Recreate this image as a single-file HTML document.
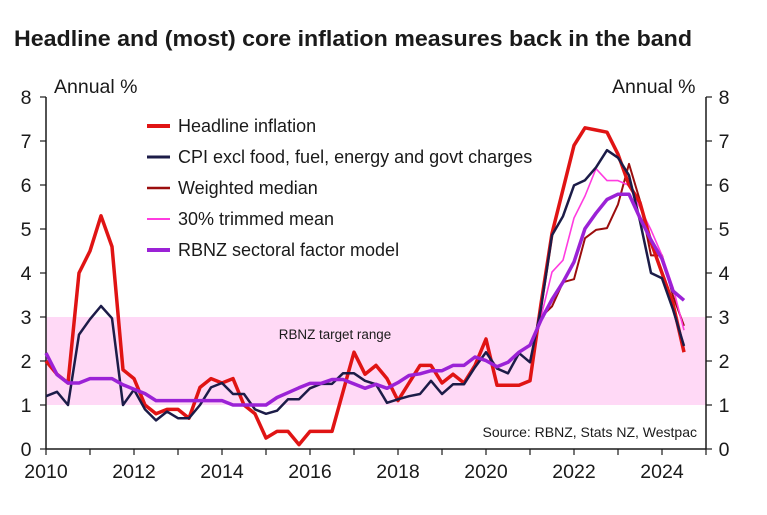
<!DOCTYPE html>
<html><head><meta charset="utf-8"><style>
body{margin:0;background:#fff;width:767px;height:510px;overflow:hidden;font-family:"Liberation Sans",Arial,sans-serif}
svg text{font-family:"Liberation Sans",Arial,sans-serif}
</style></head><body>
<svg id="c" width="767" height="510">
<text x="14" y="46" font-size="22" font-weight="bold" fill="#1a1a1a" textLength="678" lengthAdjust="spacingAndGlyphs">Headline and (most) core inflation measures back in the band</text>
<text x="54" y="93" font-size="19.5" fill="#1a1a1a">Annual %</text>
<text x="612" y="93" font-size="19.5" fill="#1a1a1a">Annual %</text>
<g id="band"></g><g id="axes"></g><g id="series"></g><g id="legend"></g>
<text x="335" y="339" font-size="13.4" text-anchor="middle" fill="#1a1a1a">RBNZ target range</text>
<text x="697" y="437" font-size="14" text-anchor="end" fill="#1a1a1a">Source: RBNZ, Stats NZ, Westpac</text>
</svg>
<script>
const xTicks=[2010,2012,2014,2016,2018,2020,2022,2024];
const yTicks=[0,1,2,3,4,5,6,7,8];
const startYear=2010;
const headline=[2.0,1.7,1.5,4.0,4.5,5.3,4.6,1.8,1.6,1.0,0.8,0.9,0.9,0.7,1.4,1.6,1.5,1.6,1.0,0.8,0.25,0.4,0.4,0.1,0.4,0.4,0.4,1.3,2.2,1.7,1.9,1.6,1.1,1.5,1.9,1.9,1.5,1.7,1.5,1.9,2.5,1.45,1.45,1.45,1.55,3.3,4.9,5.9,6.9,7.3,7.25,7.2,6.7,6.0,5.6,4.7,4.0,3.3,2.2];
const cpiExcl=[1.2,1.3,1.0,2.6,2.95,3.25,2.97,1.0,1.35,0.9,0.65,0.85,0.7,0.7,1.0,1.4,1.5,1.25,1.25,0.9,0.8,0.87,1.13,1.13,1.38,1.48,1.48,1.72,1.72,1.55,1.47,1.05,1.13,1.2,1.25,1.55,1.25,1.47,1.47,1.86,2.2,1.83,1.72,2.18,1.97,3.2,4.86,5.29,5.99,6.11,6.4,6.79,6.62,6.22,5.18,4.0,3.88,3.17,2.34];
const sectoral=[2.18,1.69,1.5,1.5,1.6,1.6,1.6,1.46,1.36,1.26,1.1,1.1,1.1,1.1,1.1,1.1,1.1,1.0,1.0,1.0,1.0,1.17,1.28,1.39,1.49,1.49,1.58,1.58,1.48,1.38,1.47,1.38,1.51,1.67,1.71,1.78,1.78,1.9,1.9,2.09,2.01,1.87,1.97,2.2,2.36,2.93,3.4,3.79,4.25,5.01,5.36,5.67,5.79,5.79,5.25,4.75,4.32,3.59,3.38];
const medianStart=44;
const weightedMedian=[2.0,3.0,3.24,3.79,3.86,4.79,4.98,5.02,5.56,6.48,5.64,4.4,4.4,3.48,2.8];
const trimmedStart=44;
const trimmedMean=[2.0,3.0,4.02,4.29,5.25,5.75,6.37,6.1,6.1,5.99,5.48,4.98,4.4,3.67,2.7];

const X=y=>46+(y-2010)*44, Y=v=>449-v*44;
const qx=i=>X(startYear+i*0.25);
const NS='http://www.w3.org/2000/svg';
function mk(tag,attrs,parent){const e=document.createElementNS(NS,tag);for(const k in attrs)e.setAttribute(k,attrs[k]);parent.appendChild(e);return e;}
const band=document.getElementById('band'),axes=document.getElementById('axes'),ser=document.getElementById('series'),leg=document.getElementById('legend');
const b=mk('rect',{x:X(2010),y:Y(3),width:X(2025)-X(2010),height:Y(1)-Y(3),fill:'#ffd9f6'},band);


mk('line',{x1:X(2010),y1:Y(0),x2:X(2010),y2:Y(8),stroke:'#1a1a1a','stroke-width':1.5},axes);
mk('line',{x1:X(2025),y1:Y(0),x2:X(2025),y2:Y(8),stroke:'#1a1a1a','stroke-width':1.5},axes);
mk('line',{x1:X(2010),y1:Y(0),x2:X(2025),y2:Y(0),stroke:'#1a1a1a','stroke-width':1.5},axes);
yTicks.forEach(v=>{
 mk('line',{x1:X(2010)-6,y1:Y(v),x2:X(2010),y2:Y(v),stroke:'#1a1a1a','stroke-width':1.2},axes);
 mk('line',{x1:X(2025),y1:Y(v),x2:X(2025)+6,y2:Y(v),stroke:'#1a1a1a','stroke-width':1.2},axes);
 const t1=mk('text',{x:26,y:Y(v)+7,'font-size':19.5,'text-anchor':'middle',fill:'#1a1a1a'},axes);t1.textContent=v;
 
 
 const t2=mk('text',{x:724,y:Y(v)+7,'font-size':19.5,'text-anchor':'middle',fill:'#1a1a1a'},axes);t2.textContent=v;
 
 
});
for(let yr=2010;yr<=2025;yr++)mk('line',{x1:X(yr),y1:Y(0),x2:X(yr),y2:Y(0)+6,stroke:'#1a1a1a','stroke-width':1.2},axes);
xTicks.forEach(yr=>{const t=mk('text',{x:X(yr),y:478,'font-size':19.5,'text-anchor':'middle',fill:'#1a1a1a'},axes);t.textContent=yr;
 
 });
function line(data,start,color,w,name){
 const pts=data.map((v,i)=>qx(start+i).toFixed(1)+','+Y(v).toFixed(1)).join(' ');
 const p=mk('polyline',{points:pts,fill:'none',stroke:color,'stroke-width':w,'stroke-linejoin':'round'},ser);
 
 
}
line(weightedMedian,medianStart,'#9b0d0d',2,'weighted-median-line');
line(trimmedMean,trimmedStart,'#ff3ce0',1.6,'trimmed-mean-line');
line(headline,0,'#e01414',3.5,'headline-inflation-line');
line(cpiExcl,0,'#1c1c48',2.5,'cpi-excl-line');
line(sectoral,0,'#9b22d6',3.5,'sectoral-factor-model-line');
const legItems=[['Headline inflation','#e01414',3.5],['CPI excl food, fuel, energy and govt charges','#1c1c48',2.5],['Weighted median','#9b0d0d',2],['30% trimmed mean','#ff3ce0',1.6],['RBNZ sectoral factor model','#9b22d6',3.5]];
legItems.forEach((it,i)=>{const y=126+i*31;
 const l=mk('line',{x1:147,y1:y,x2:170,y2:y,stroke:it[1],'stroke-width':it[2]+0.5},leg);
 
 
 const t=mk('text',{x:178,y:y+6,'font-size':18,fill:'#1a1a1a'},leg);t.textContent=it[0];
 
 });
</script>
</body></html>
